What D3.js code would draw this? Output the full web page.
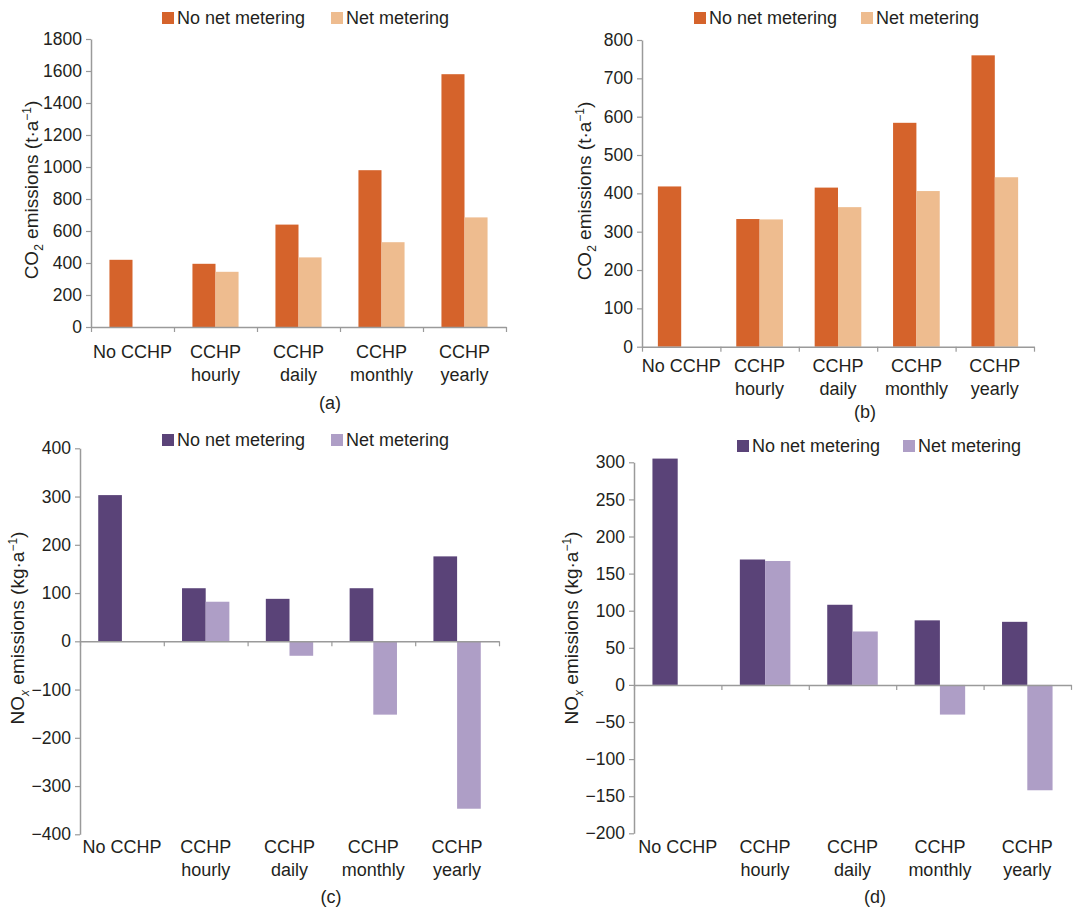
<!DOCTYPE html>
<html>
<head>
<meta charset="utf-8">
<script src="https://cdn.jsdelivr.net/npm/d3@7"></script>
<style>
  html, body { margin: 0; padding: 0; background: #fff; }
  svg text { font-family: "Liberation Sans", Arial, Helvetica, sans-serif; fill: #231f20; }
</style>
</head>
<body>
<svg id="chart" width="1087" height="908"></svg>
<script>
// Scenarios on the x axis and the two metering series
const categories = ["No CCHP", "CCHP hourly", "CCHP daily", "CCHP monthly", "CCHP yearly"];
const seriesNames = ["No net metering", "Net metering"];

// (a) CO2 emissions, t·a⁻¹
const co2A_noNet = [420, 395, 640, 980, 1580];
const co2A_net   = [null, 345, 435, 530, 685];
const co2A_ticks = [0, 200, 400, 600, 800, 1000, 1200, 1400, 1600, 1800];

// (b) CO2 emissions, t·a⁻¹
const co2B_noNet = [418, 333, 415, 584, 760];
const co2B_net   = [null, 332, 364, 406, 442];
const co2B_ticks = [0, 100, 200, 300, 400, 500, 600, 700, 800];

// (c) NOx emissions, kg·a⁻¹
const noxC_noNet = [303, 110, 88, 110, 176];
const noxC_net   = [null, 82, -30, -152, -347];
const noxC_ticks = [-400, -300, -200, -100, 0, 100, 200, 300, 400];

// (d) NOx emissions, kg·a⁻¹
const noxD_noNet = [305, 169, 108, 87, 85];
const noxD_net   = [null, 167, 72, -40, -142];
const noxD_ticks = [-200, -150, -100, -50, 0, 50, 100, 150, 200, 250, 300];

const orange = ["#d5632b", "#eebc8f"];
const purple = ["#5a4378", "#ae9ec6"];
const axisGray = "#9a9a9a";
const TICK_FONT = 17.5;
const LABEL_FONT = 18;
const TITLE_FONT = 19;

const svg = d3.select("#chart");

function labelLines(c) {
  return c.startsWith("CCHP ") ? ["CCHP", c.slice(5)] : [c];
}

function drawPanel(cfg) {
  const g = svg.append("g");
  const y = d3.scaleLinear().domain(cfg.domain).range([cfg.yBottom, cfg.yTop]);
  const x = d3.scaleBand().domain(categories).range([cfg.xLeft, cfg.xRight]);
  const xs = d3.scaleBand().domain(seriesNames).range([0, x.bandwidth()]).paddingOuter(cfg.pad);

  // bars
  cfg.values.forEach((vals, si) => {
    const rows = categories.map((c, i) => ({ c, v: vals[i] })).filter(d => d.v != null);
    g.append("g").selectAll("rect").data(rows).join("rect")
      .attr("x", d => x(d.c) + xs(seriesNames[si]))
      .attr("y", d => y(Math.max(0, d.v)))
      .attr("width", xs.bandwidth())
      .attr("height", d => Math.abs(y(d.v) - y(0)))
      .attr("fill", cfg.colors[si]);
  });

  // y axis
  const ya = g.append("g")
    .attr("transform", `translate(${cfg.xLeft},0)`)
    .call(d3.axisLeft(y).tickValues(cfg.ticks).tickSize(5).tickSizeOuter(0).tickPadding(4).tickFormat(d3.format("d")));
  ya.select(".domain").attr("stroke", axisGray).attr("stroke-width", 1.5);
  ya.selectAll(".tick line").attr("stroke", axisGray).attr("stroke-width", 1.2);
  ya.selectAll(".tick text").attr("font-size", TICK_FONT).attr("fill", "#231f20")
    .style("font-family", '"Liberation Sans", Arial, sans-serif');

  // x axis along the zero line, ticks at category boundaries
  const xb = d3.scaleLinear().domain([0, categories.length]).range([cfg.xLeft, cfg.xRight]);
  const xa = g.append("g")
    .attr("transform", `translate(0,${y(0)})`)
    .call(d3.axisBottom(xb).tickValues(d3.range(categories.length + 1)).tickSize(5).tickSizeOuter(0).tickFormat(""));
  xa.select(".domain").attr("stroke", axisGray).attr("stroke-width", 1.5);
  xa.selectAll(".tick line").attr("stroke", axisGray).attr("stroke-width", 1.2);

  // category labels
  categories.forEach(c => {
    const cx = x(c) + x.bandwidth() / 2;
    const t = g.append("text")
      .attr("x", cx)
      .attr("y", cfg.labelY)
      .attr("text-anchor", "middle")
      .attr("font-size", LABEL_FONT);
    labelLines(c).forEach((line, i) => {
      t.append("tspan").attr("x", cx).attr("dy", i === 0 ? 0 : 22.5).text(line);
    });
  });

  // y axis title
  const yt = g.append("text")
    .attr("transform", `translate(${cfg.titleX},${cfg.titleY}) rotate(-90)`)
    .attr("text-anchor", "middle")
    .attr("dy", "0.35em")
    .attr("font-size", TITLE_FONT);
  yt.append("tspan").text(cfg.title[0]);
  const sub = yt.append("tspan").attr("dy", 5).attr("font-size", 12).text(cfg.title[1]);
  if (cfg.subItalic) sub.attr("font-style", "italic");
  yt.append("tspan").attr("dy", -5).text(cfg.title[2]);
  yt.append("tspan").attr("dy", -7).attr("font-size", 12).text("\u22121");
  yt.append("tspan").attr("dy", 7).text(")");

  // legend
  const lg = g.append("g");
  seriesNames.forEach((s, i) => {
    lg.append("rect").attr("x", cfg.legend[i]).attr("y", cfg.legendY)
      .attr("width", 12).attr("height", 12).attr("fill", cfg.colors[i]);
    lg.append("text").attr("x", cfg.legend[i] + 15).attr("y", cfg.legendY + 6)
      .attr("dy", "0.35em").attr("font-size", 18).text(s);
  });

  // panel caption
  g.append("text").attr("x", cfg.capX).attr("y", cfg.capY).attr("dy", "0.35em")
    .attr("text-anchor", "middle").attr("font-size", 18).text(cfg.caption);
}

drawPanel({
  values: [co2A_noNet, co2A_net], ticks: co2A_ticks, domain: [0, 1800],
  xLeft: 91, xRight: 506, yBottom: 327, yTop: 39, pad: 0.8, colors: orange,
  labelY: 358, title: ["CO", "2", " emissions (t\u00b7a"], titleX: 31, titleY: 190,
  legend: [162, 331], legendY: 12, caption: "(a)", capX: 330, capY: 403
});

drawPanel({
  values: [co2B_noNet, co2B_net], ticks: co2B_ticks, domain: [0, 800],
  xLeft: 642, xRight: 1034, yBottom: 346.7, yTop: 40, pad: 0.68, colors: orange,
  labelY: 372, title: ["CO", "2", " emissions (t\u00b7a"], titleX: 584, titleY: 191,
  legend: [694, 861], legendY: 12, caption: "(b)", capX: 865, capY: 412
});

drawPanel({
  values: [noxC_noNet, noxC_net], ticks: noxC_ticks, domain: [-400, 400],
  xLeft: 80, xRight: 499, yBottom: 834.3, yTop: 448.3, pad: 0.77, colors: purple,
  labelY: 853, title: ["NO", "x", " emissions (kg\u00b7a"], subItalic: true, titleX: 17, titleY: 628,
  legend: [162, 331], legendY: 434, caption: "(c)", capX: 331, capY: 897
});

drawPanel({
  values: [noxD_noNet, noxD_net], ticks: noxD_ticks, domain: [-200, 300],
  xLeft: 634, xRight: 1071, yBottom: 833.3, yTop: 462.3, pad: 0.73, colors: purple,
  labelY: 853, title: ["NO", "x", " emissions (kg\u00b7a"], subItalic: true, titleX: 571, titleY: 628,
  legend: [737, 903], legendY: 440, caption: "(d)", capX: 875, capY: 897
});
</script>
</body>
</html>
